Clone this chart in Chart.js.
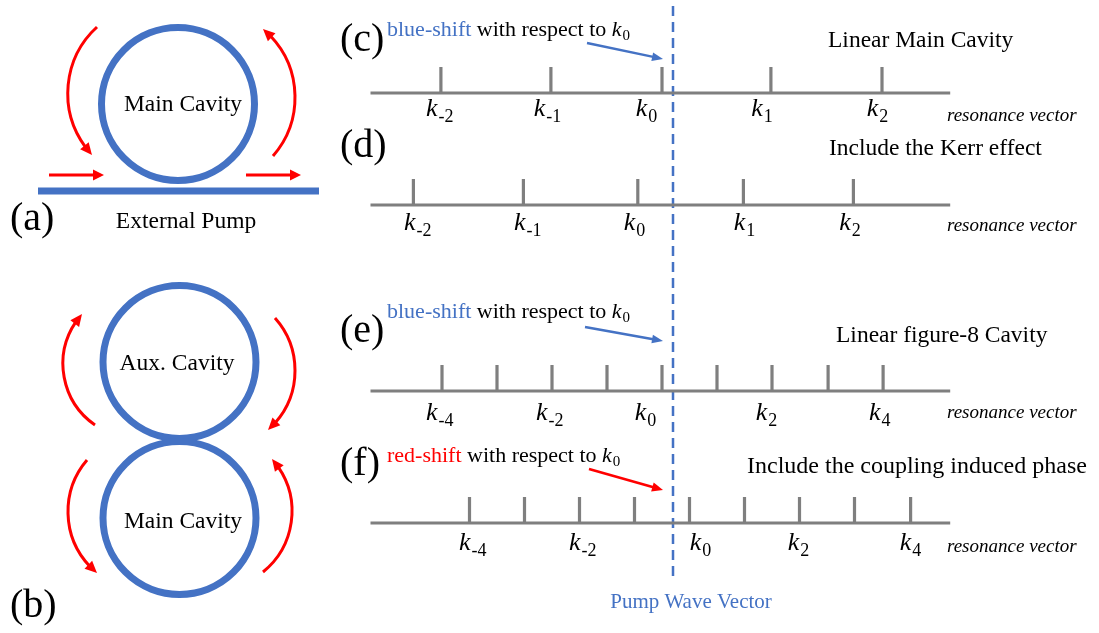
<!DOCTYPE html>
<html><head><meta charset="utf-8">
<script src="https://cdn.jsdelivr.net/npm/chart.js@4"></script>
<style>html,body{margin:0;padding:0;background:#fff;}canvas{display:block;}</style>
</head><body>
<canvas id="c" width="1099" height="633"></canvas>
<script>
// ---------------- data ----------------
// panels on the right-hand side
const panelNames  = ['(c)', '(d)', '(e)', '(f)'];
const panelTitles = ['Linear Main Cavity', 'Include the Kerr effect', 'Linear figure-8 Cavity', 'Include the coupling induced phase'];
// resonance positions, in units of the main-cavity FSR, relative to the pump wave vector (k = 0)
const resC = [-2.11, -1.11, -0.10, 0.89, 1.90];
const resD = [-2.36, -1.36, -0.32, 0.64, 1.64];
const resE = [-2.10, -1.60, -1.10, -0.60, -0.10, 0.40, 0.90, 1.41, 1.91];
const resF = [-1.85, -1.35, -0.85, -0.35, 0.15, 0.65, 1.15, 1.65, 2.16];
// tick labels (subscripts of k) and where they sit on the k axis
const labC = ['-2', '-1', '0', '1', '2'];
const labD = ['-2', '-1', '0', '1', '2'];
const labE = ['-4', '-2', '0', '2', '4'];
const labF = ['-4', '-2', '0', '2', '4'];
const labPosC = [-2.12, -1.14, -0.24, 0.81, 1.86];
const labPosD = [-2.32, -1.32, -0.35, 0.65, 1.61];
const labPosE = [-2.12, -1.12, -0.25, 0.85, 1.88];
const labPosF = [-1.82, -0.82, 0.25, 1.14, 2.16];
// extent of each resonance axis (k units)
const axisRange = [-2.75, 2.52];
const pumpK = 0;

// ---------------- layout (pixels) ----------------
const W = 1099, H = 633;
const PUMP_PX = 673, PX_PER_K = 110;
const axisY = [93, 205, 391, 523];
const TICK_H = 26;
const kLabelY = [116, 230, 420, 550];
const resVecY = [116, 226, 413, 547];
const titleXY = [[828, 47], [829, 155], [836, 342], [747, 473]];
const titleSize = [23.5, 23.5, 23.5, 24];
const panelLabelXY = [[340, 51], [340, 157], [340, 342], [340, 475]];

const BLUE = '#4472C4', RED = '#FF0000', GRAY = '#7F7F7F', BLACK = '#000000';
const SERIF = '"Liberation Serif","Times New Roman",serif';

const resList = [resC, resD, resE, resF];
const labList = [labC, labD, labE, labF];
const labPosList = [labPosC, labPosD, labPosE, labPosF];

const cavities = [{x: 178, y: 104}, {x: 179.5, y: 362}, {x: 179.5, y: 518}];
const CAV_R = 76.5;

const datasets = [];
// baselines
axisY.forEach(y => datasets.push({
  data: [{x: axisRange[0], y}, {x: axisRange[1], y}], xAxisID: 'xk', yAxisID: 'y',
  showLine: true, borderColor: GRAY, borderWidth: 3, pointRadius: 0, borderCapStyle: 'butt'
}));
// resonance ticks
resList.forEach((arr, i) => datasets.push({
  data: arr.map(k => ({x: k, y: axisY[i] - TICK_H / 2})), xAxisID: 'xk', yAxisID: 'y',
  showLine: false, pointStyle: 'line', rotation: 90, pointRadius: TICK_H / 2,
  borderColor: GRAY, backgroundColor: GRAY, borderWidth: 3.2
}));
// pump wave vector (dashed)
datasets.push({
  data: [{x: pumpK, y: 6}, {x: pumpK, y: 580}], xAxisID: 'xk', yAxisID: 'y',
  showLine: true, borderColor: BLUE, borderWidth: 2.5, borderDash: [10, 6], pointRadius: 0, borderCapStyle: 'butt'
});
// cavities
datasets.push({
  data: cavities, xAxisID: 'x', yAxisID: 'y', showLine: false,
  pointStyle: 'circle', pointRadius: CAV_R, borderWidth: 7, borderColor: BLUE, backgroundColor: 'rgba(0,0,0,0)'
});
// bus waveguide
datasets.push({
  data: [{x: 38, y: 191}, {x: 319, y: 191}], xAxisID: 'x', yAxisID: 'y',
  showLine: true, borderColor: BLUE, borderWidth: 7, pointRadius: 0, borderCapStyle: 'butt'
});

// annotation arrows
const straightArrows = [
  {from: [587, 43], to: [663, 59], color: BLUE, w: 2.4},
  {from: [585, 327], to: [663, 341], color: BLUE, w: 2.4},
  {from: [589, 469], to: [663, 490], color: RED, w: 2.6},
  {from: [49, 175], to: [104, 175], color: RED, w: 3},
  {from: [246, 175], to: [301, 175], color: RED, w: 3}
];
const arcArrows = [
  [[97, 27], [68, 100], [92, 155]],
  [[273, 156], [295, 97], [263, 29]],
  [[95, 425], [63, 367], [82, 314]],
  [[275, 318], [295, 370], [268, 430]],
  [[87, 460], [68, 513], [97, 573]],
  [[263, 572], [292, 510], [272, 459]]
];

function rich(ctx, x, y, parts, align) {
  let total = 0;
  const ws = parts.map(p => { ctx.font = p[1]; const w = ctx.measureText(p[0]).width + (p[4] || 0); total += w; return w; });
  let cx = align === 'center' ? x - total / 2 : x;
  ctx.textBaseline = 'alphabetic'; ctx.textAlign = 'left';
  parts.forEach((p, i) => { ctx.font = p[1]; ctx.fillStyle = p[2]; ctx.fillText(p[0], cx + (p[4] || 0), y + (p[3] || 0)); cx += ws[i]; });
}

function head(ctx, tx, ty, dx, dy, len, hw, color) {
  const bx = tx - dx * len, by = ty - dy * len;
  ctx.beginPath();
  ctx.moveTo(tx, ty);
  ctx.lineTo(bx - dy * hw, by + dx * hw);
  ctx.lineTo(bx + dy * hw, by - dx * hw);
  ctx.closePath();
  ctx.fillStyle = color; ctx.fill();
}

const decor = {
  id: 'decor',
  afterDatasetsDraw(chart) {
    const ctx = chart.ctx, sx = chart.scales.x, sy = chart.scales.y, sk = chart.scales.xk;
    const P = (p) => [sx.getPixelForValue(p[0]), sy.getPixelForValue(p[1])];
    ctx.save();
    // straight arrows
    straightArrows.forEach(a => {
      const [x1, y1] = P(a.from), [x2, y2] = P(a.to);
      const L = Math.hypot(x2 - x1, y2 - y1), dx = (x2 - x1) / L, dy = (y2 - y1) / L;
      const len = 11, hw = a.w * 1.8;
      ctx.beginPath(); ctx.moveTo(x1, y1); ctx.lineTo(x2 - dx * (len - 1), y2 - dy * (len - 1));
      ctx.strokeStyle = a.color; ctx.lineWidth = a.w; ctx.lineCap = 'butt'; ctx.stroke();
      head(ctx, x2, y2, dx, dy, len, hw, a.color);
    });
    // curved arrows (circle through 3 points)
    arcArrows.forEach(pts => {
      const [a, b, c] = pts.map(P);
      const d = 2 * (a[0] * (b[1] - c[1]) + b[0] * (c[1] - a[1]) + c[0] * (a[1] - b[1]));
      const ux = ((a[0] ** 2 + a[1] ** 2) * (b[1] - c[1]) + (b[0] ** 2 + b[1] ** 2) * (c[1] - a[1]) + (c[0] ** 2 + c[1] ** 2) * (a[1] - b[1])) / d;
      const uy = ((a[0] ** 2 + a[1] ** 2) * (c[0] - b[0]) + (b[0] ** 2 + b[1] ** 2) * (a[0] - c[0]) + (c[0] ** 2 + c[1] ** 2) * (b[0] - a[0])) / d;
      const r = Math.hypot(a[0] - ux, a[1] - uy);
      const a1 = Math.atan2(a[1] - uy, a[0] - ux), a2 = Math.atan2(b[1] - uy, b[0] - ux), a3 = Math.atan2(c[1] - uy, c[0] - ux);
      const TAU = Math.PI * 2, norm = v => ((v % TAU) + TAU) % TAU;
      const cw = norm(a2 - a1) < norm(a3 - a1);
      const len = 12, hw = 5.5, shrink = (len - 2) / r;
      const endA = cw ? a3 - shrink : a3 + shrink;
      ctx.beginPath(); ctx.arc(ux, uy, r, a1, endA, !cw);
      ctx.strokeStyle = RED; ctx.lineWidth = 3; ctx.lineCap = 'butt'; ctx.stroke();
      const bx = ux + r * Math.cos(a3 + (cw ? -len / r : len / r)), by = uy + r * Math.sin(a3 + (cw ? -len / r : len / r));
      const L = Math.hypot(c[0] - bx, c[1] - by);
      head(ctx, c[0], c[1], (c[0] - bx) / L, (c[1] - by) / L, len, hw, RED);
    });
    // ---- texts ----
    const F = (s, it) => (it ? 'italic ' : '') + s + 'px ' + SERIF;
    rich(ctx, 10, 230, [['(a)', F(40), BLACK]]);
    rich(ctx, 10, 617, [['(b)', F(40), BLACK]]);
    panelNames.forEach((n, i) => rich(ctx, panelLabelXY[i][0], panelLabelXY[i][1], [[n, F(40), BLACK]]));
    rich(ctx, 183, 111, [['Main Cavity', F(23.5), BLACK]], 'center');
    rich(ctx, 186, 228, [['External Pump', F(23.5), BLACK]], 'center');
    rich(ctx, 177, 370, [['Aux. Cavity', F(23.5), BLACK]], 'center');
    rich(ctx, 183, 528, [['Main Cavity', F(23.5), BLACK]], 'center');
    panelTitles.forEach((t, i) => rich(ctx, titleXY[i][0], titleXY[i][1], [[t, F(titleSize[i]), BLACK]]));
    const shiftNote = (x, y, word, col) => rich(ctx, x, y, [
      [word, F(22), col], [' with respect to ', F(22), BLACK], ['k', F(22, true), BLACK], ['0', F(15), BLACK, 4, 1]
    ]);
    shiftNote(387, 36, 'blue-shift', BLUE);
    shiftNote(387, 318, 'blue-shift', BLUE);
    shiftNote(387, 462, 'red-shift', RED);
    labList.forEach((labs, i) => {
      labs.forEach((s, j) => {
        const px = sk.getPixelForValue(labPosList[i][j]);
        rich(ctx, px, kLabelY[i], [['k', F(26, true), BLACK], [s, F(18), BLACK, 6, 1]], 'center');
      });
      ctx.font = F(19, true); ctx.fillStyle = BLACK; ctx.textAlign = 'left'; ctx.textBaseline = 'middle';
      ctx.fillText('resonance vector', 947, resVecY[i]);
    });
    rich(ctx, sk.getPixelForValue(pumpK) + 18, 608, [['Pump Wave Vector', F(21), BLUE]], 'center');
    ctx.restore();
  }
};

new Chart(document.getElementById('c'), {
  type: 'scatter',
  data: {datasets},
  options: {
    responsive: false, animation: false, devicePixelRatio: 1, events: [],
    layout: {padding: 0, autoPadding: false},
    plugins: {legend: {display: false}, tooltip: {enabled: false}},
    scales: {
      x: {type: 'linear', min: 0, max: W, display: false},
      xk: {type: 'linear', axis: 'x', min: -PUMP_PX / PX_PER_K, max: (W - PUMP_PX) / PX_PER_K, display: false},
      y: {type: 'linear', min: 0, max: H, reverse: true, display: false}
    }
  },
  plugins: [decor]
});
</script>
</body></html>
